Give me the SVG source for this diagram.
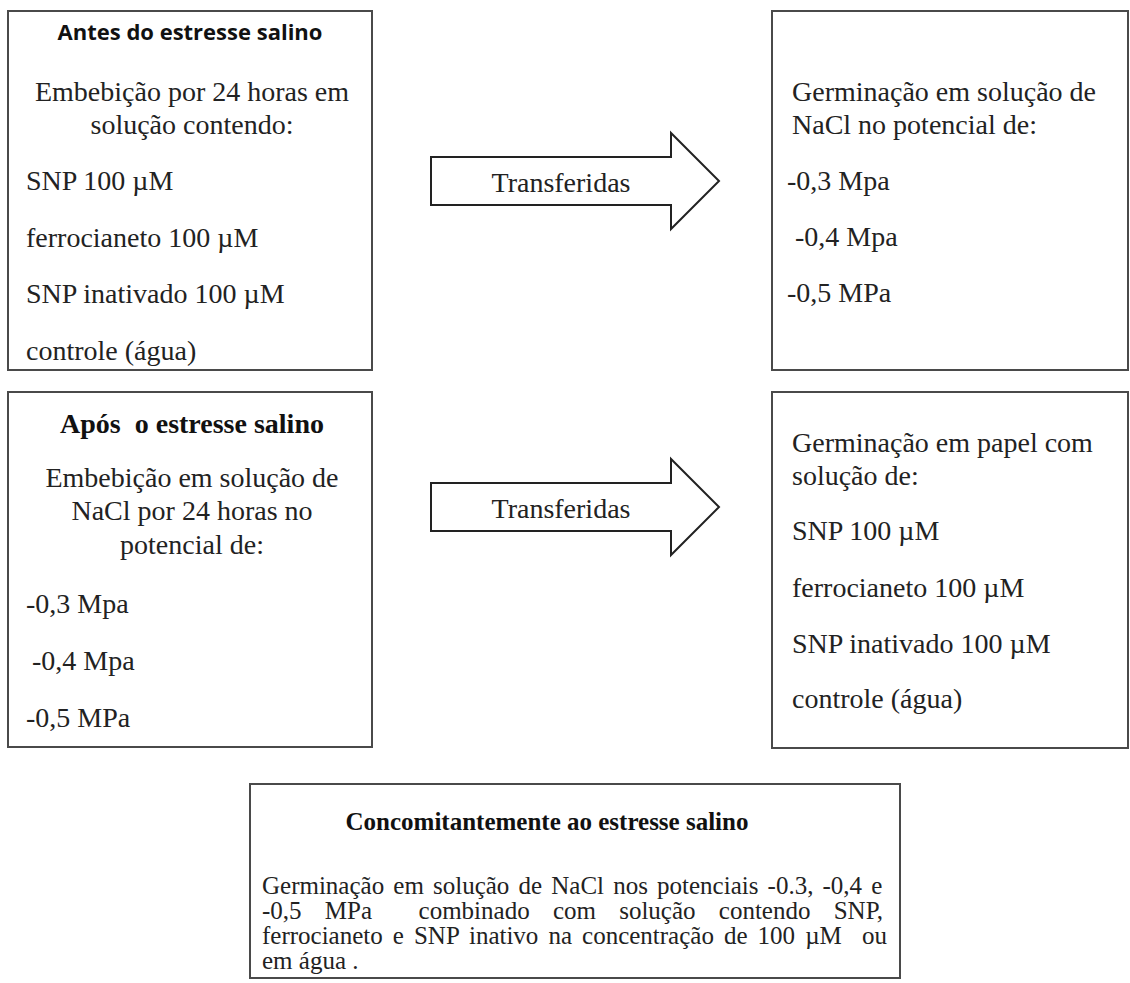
<svg xmlns="http://www.w3.org/2000/svg" width="1130" height="983" viewBox="0 0 1130 983">
<style>
.box{fill:#fff;stroke:#4a4a4a;stroke-width:2}
.arr{fill:#fff;stroke:#222;stroke-width:2;stroke-linejoin:miter}
.t{font-family:"Liberation Serif","Times New Roman",serif;font-size:28px;fill:#222}
.tb{font-family:"Liberation Serif","Times New Roman",serif;font-size:28px;font-weight:bold;fill:#111}
.ts{font-family:"Open Sans","Liberation Sans",sans-serif;font-size:22px;font-weight:bold;fill:#111}
.b5{font-family:"Liberation Serif","Times New Roman",serif;font-size:25px;fill:#222}
.m{text-anchor:middle}
</style>
<rect width="1130" height="983" fill="#fff"/>
<g id="connectors">
  <g id="arrow1">
    <polygon class="arr" points="431,157 671,157 671,133 719,181 671,229 671,205 431,205"/>
    <text class="t m" x="561" y="192">Transferidas</text>
  </g>
  <g id="arrow2">
    <polygon class="arr" points="431,483 671,483 671,459 719,507 671,555 671,531 431,531"/>
    <text class="t m" x="561" y="518">Transferidas</text>
  </g>
</g>
<g id="antes">
  <rect class="box" x="8" y="11" width="364" height="359"/>
  <text class="ts m" x="190" y="40">Antes do estresse salino</text>
  <text class="t m" x="192" y="101">Embebição por 24 horas em</text>
  <text class="t m" x="192" y="134">solução contendo:</text>
  <text class="t" x="26" y="190">SNP 100 µM</text>
  <text class="t" x="26" y="247">ferrocianeto 100 µM</text>
  <text class="t" x="26" y="303">SNP inativado 100 µM</text>
  <text class="t" x="26" y="360">controle (água)</text>
</g>
<g id="germinacao-nacl">
  <rect class="box" x="772" y="11" width="356" height="359"/>
  <text class="t" x="792" y="101">Germinação em solução de</text>
  <text class="t" x="792" y="134">NaCl no potencial de:</text>
  <text class="t" x="787" y="190">-0,3 Mpa</text>
  <text class="t" x="795" y="246">-0,4 Mpa</text>
  <text class="t" x="787" y="302">-0,5 MPa</text>
</g>
<g id="apos">
  <rect class="box" x="8" y="392" width="364" height="355"/>
  <text class="tb m" x="192" y="433" xml:space="preserve">Após  o estresse salino</text>
  <text class="t m" x="192" y="487">Embebição em solução de</text>
  <text class="t m" x="192" y="520">NaCl por 24 horas no</text>
  <text class="t m" x="192" y="554">potencial de:</text>
  <text class="t" x="26" y="613">-0,3 Mpa</text>
  <text class="t" x="32" y="670">-0,4 Mpa</text>
  <text class="t" x="26" y="727">-0,5 MPa</text>
</g>
<g id="germinacao-papel">
  <rect class="box" x="772" y="392" width="356" height="356"/>
  <text class="t" x="792" y="452">Germinação em papel com</text>
  <text class="t" x="792" y="485">solução de:</text>
  <text class="t" x="792" y="540">SNP 100 µM</text>
  <text class="t" x="792" y="597">ferrocianeto 100 µM</text>
  <text class="t" x="792" y="653">SNP inativado 100 µM</text>
  <text class="t" x="792" y="708">controle (água)</text>
</g>
<g id="concomitantemente">
  <rect class="box" x="250" y="784" width="650" height="194"/>
  <text class="tb m" x="547" y="830" style="font-size:25px">Concomitantemente ao estresse salino</text>
  <text class="b5" x="262" y="894" style="word-spacing:2.9px">Germinação em solução de NaCl nos potenciais -0.3, -0,4 e</text>
  <text class="b5" x="262" y="919" xml:space="preserve" style="word-spacing:17px">-0,5 MPa  combinado com solução contendo SNP,</text>
  <text class="b5" x="262" y="944" xml:space="preserve" style="word-spacing:3.8px">ferrocianeto e SNP inativo na concentração de 100 µM  ou</text>
  <text class="b5" x="262" y="969">em água .</text>
</g>
</svg>
